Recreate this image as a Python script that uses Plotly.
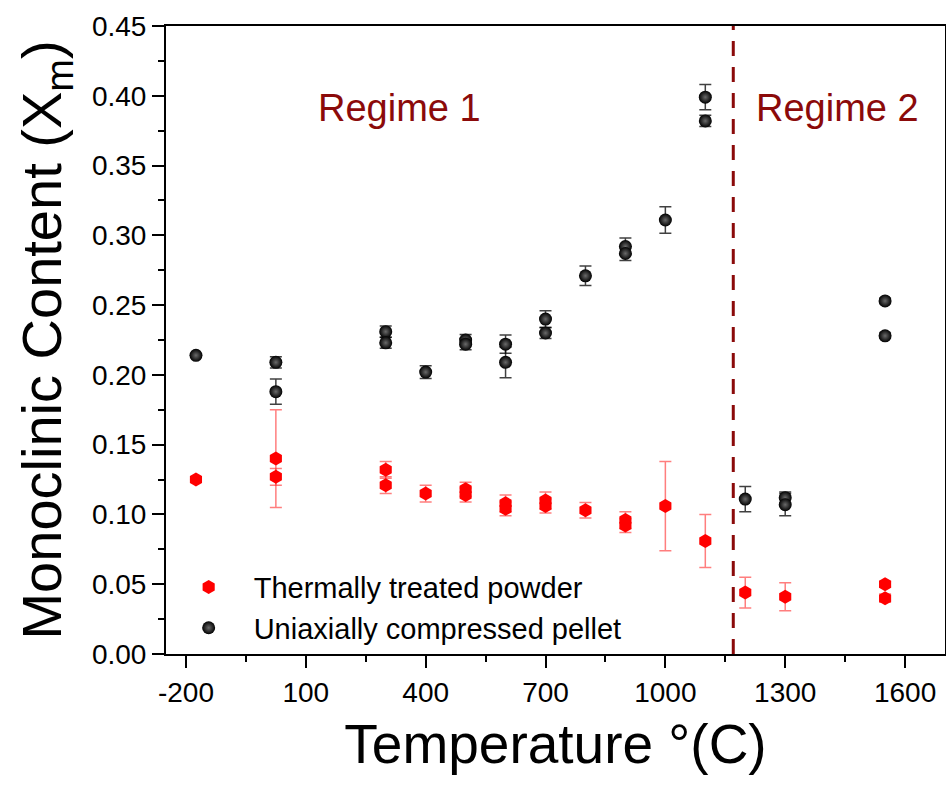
import plotly.graph_objects as go

# ---- data ----
powder_T = [-175, 25, 25, 300, 300, 400, 500, 500, 600, 600, 700, 700, 800, 900, 900, 1000, 1100, 1200, 1300, 1550, 1550]
powder_X = [0.125, 0.140, 0.127, 0.132, 0.121, 0.115, 0.118, 0.114, 0.108, 0.104, 0.110, 0.106, 0.103, 0.096, 0.092, 0.106, 0.081, 0.044, 0.041, 0.050, 0.040]
powder_err = [0.0, 0.035, 0.006, 0.006, 0.006, 0.006, 0.005, 0.005, 0.006, 0.005, 0.006, 0.005, 0.0055, 0.006, 0.005, 0.032, 0.019, 0.011, 0.010, 0.002, 0.003]

pellet_T = [-175, 25, 25, 300, 300, 400, 500, 500, 600, 600, 700, 700, 800, 900, 900, 1000, 1100, 1100, 1200, 1300, 1300, 1550, 1550]
pellet_X = [0.214, 0.209, 0.188, 0.231, 0.223, 0.202, 0.225, 0.222, 0.222, 0.209, 0.240, 0.230, 0.271, 0.292, 0.287, 0.311, 0.399, 0.382, 0.111, 0.112, 0.107, 0.253, 0.228]
pellet_err = [0.0, 0.004, 0.009, 0.004, 0.004, 0.0045, 0.004, 0.004, 0.0065, 0.011, 0.006, 0.004, 0.007, 0.006, 0.005, 0.0095, 0.009, 0.004, 0.009, 0.004, 0.008, 0.002, 0.002]

x_tickvals = [-200, 100, 400, 700, 1000, 1300, 1600]
x_ticktext = ["-200", "100", "400", "700", "1000", "1300", "1600"]

regime_boundary = 1170
series_names = ["Thermally treated powder", "Uniaxially compressed pellet"]
regime_labels = ["Regime 1", "Regime 2"]

FONT = "Liberation Sans, Arial, sans-serif"
DARKRED = "#8B0A0A"

fig = go.Figure()
fig.add_trace(go.Scatter(
    x=powder_T, y=powder_X, mode="markers", name=series_names[0],
    marker=dict(symbol="hexagon", size=14, color="#ff0000", line=dict(width=0)),
    error_y=dict(type="data", array=powder_err, visible=True,
                 color="rgba(255,40,40,0.6)", thickness=1.5, width=6),
))
fig.add_trace(go.Scatter(
    x=pellet_T, y=pellet_X, mode="markers", name=series_names[1],
    marker=dict(symbol="circle", size=13, color="#000000", line=dict(width=0),
                gradient=dict(type="radial", color="#6a6a6a")),
    error_y=dict(type="data", array=pellet_err, visible=True,
                 color="rgba(0,0,0,0.75)", thickness=1.5, width=6),
))

fig.add_shape(type="line", x0=regime_boundary, x1=regime_boundary, xref="x",
              y0=0, y1=1, yref="paper",
              line=dict(color=DARKRED, width=3, dash="15px,11px"))

fig.add_annotation(x=334, y=0.391, xref="x", yref="y", text=regime_labels[0],
                   showarrow=False, font=dict(family=FONT, size=38, color=DARKRED))
fig.add_annotation(x=1432, y=0.391, xref="x", yref="y", text=regime_labels[1],
                   showarrow=False, font=dict(family=FONT, size=38, color=DARKRED))

axis_common = dict(showline=True, linecolor="black", linewidth=2, mirror=True,
                   ticks="outside", ticklen=12, tickwidth=2, tickcolor="black",
                   showgrid=False, zeroline=False,
                   tickfont=dict(family=FONT, size=28, color="black"))

fig.update_xaxes(range=[-250, 1700], tickvals=x_tickvals, ticktext=x_ticktext,
                 minor=dict(tick0=-200, dtick=150, ticks="outside", ticklen=6,
                            tickwidth=2, tickcolor="black", showgrid=False),
                 title=dict(text="Temperature °(C)", font=dict(family=FONT, size=55, color="black"),
                            standoff=18),
                 **axis_common)
fig.update_yaxes(range=[0, 0.45], tick0=0, dtick=0.05, tickformat=".2f",
                 minor=dict(tick0=0, dtick=0.025, ticks="outside", ticklen=6,
                            tickwidth=2, tickcolor="black", showgrid=False),
                 title=dict(text="Monoclinic Content (X<sub>m</sub>)",
                            font=dict(family=FONT, size=56, color="black"), standoff=12),
                 **axis_common)

fig.update_layout(
    width=946, height=792,
    margin=dict(l=166, r=1, t=26, b=138, autoexpand=False),
    paper_bgcolor="white", plot_bgcolor="white",
    showlegend=True,
    legend=dict(x=-0.003, y=0.147, xanchor="left", yanchor="top",
                bgcolor="rgba(0,0,0,0)", borderwidth=0,
                font=dict(family=FONT, size=29, color="black"),
                itemwidth=80),
)

fig.write_html("out.html")
